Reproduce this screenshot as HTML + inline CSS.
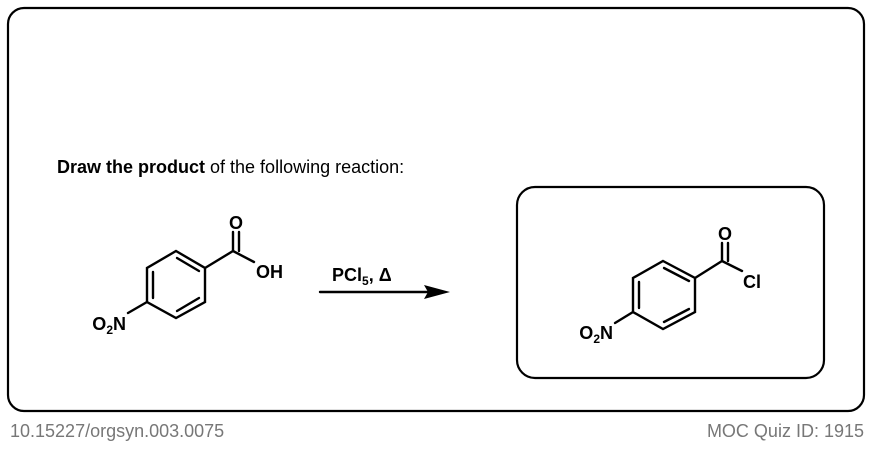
<!DOCTYPE html>
<html><head><style>
html,body{margin:0;padding:0;background:#fff;}
body{width:872px;height:444px;overflow:hidden;font-family:"Liberation Sans",sans-serif;}
</style></head><body>
<svg width="872" height="444" viewBox="0 0 872 444" xmlns="http://www.w3.org/2000/svg" font-family="Liberation Sans, sans-serif">
<rect x="8" y="8" width="856" height="403" rx="16" fill="none" stroke="#000" stroke-width="2.2"/>
<text x="57" y="173" font-size="18"><tspan font-weight="bold">Draw the product</tspan> of the following reaction:</text>
<g stroke="#000" stroke-width="2.4" fill="none" stroke-linecap="round">
<polygon points="176,251 205,268 205,302 176,318 147,302 147,268"/>
<line x1="153" y1="272" x2="153" y2="298"/>
<line x1="177" y1="258" x2="199" y2="271"/>
<line x1="177" y1="311" x2="199" y2="298"/>
<line x1="205" y1="268" x2="233" y2="251"/>
<line x1="233" y1="251" x2="233" y2="232"/>
<line x1="239" y1="251" x2="239" y2="232"/>
<line x1="233" y1="251" x2="254" y2="262"/>
<line x1="147" y1="302" x2="128" y2="313"/>
<polygon points="663,261 695,278 695,312 663,329 633,312 633,278"/>
<line x1="639" y1="282" x2="639" y2="308"/>
<line x1="664" y1="268" x2="689" y2="281"/>
<line x1="664" y1="322" x2="689" y2="309"/>
<line x1="695" y1="278" x2="722" y2="261"/>
<line x1="722" y1="261" x2="722" y2="243"/>
<line x1="728" y1="261" x2="728" y2="243"/>
<line x1="722" y1="261" x2="742" y2="271"/>
<line x1="633" y1="312" x2="615" y2="323"/>
<line x1="320" y1="292" x2="430" y2="292"/>
</g>
<polygon points="450,292 424,285 428,292 424,299" fill="#000"/>
<g font-weight="bold" font-size="18">
<text x="236" y="229" text-anchor="middle">O</text>
<text x="256" y="278">OH</text>
<text x="126" y="330" text-anchor="end">O<tspan font-size="12" dy="4">2</tspan><tspan dy="-4">N</tspan></text>
<text x="332" y="281">PCl<tspan font-size="12" dy="4">5</tspan><tspan dy="-4">, Δ</tspan></text>
<text x="725" y="240" text-anchor="middle">O</text>
<text x="743" y="288">Cl</text>
<text x="613" y="339" text-anchor="end">O<tspan font-size="12" dy="4">2</tspan><tspan dy="-4">N</tspan></text>
</g>
<rect x="517" y="187" width="307" height="191" rx="18" fill="none" stroke="#000" stroke-width="2.2"/>
<text x="10" y="437" font-size="18" fill="#777">10.15227/orgsyn.003.0075</text>
<text x="864" y="437" font-size="18" fill="#777" text-anchor="end">MOC Quiz ID: 1915</text>
</svg>
</body></html>
